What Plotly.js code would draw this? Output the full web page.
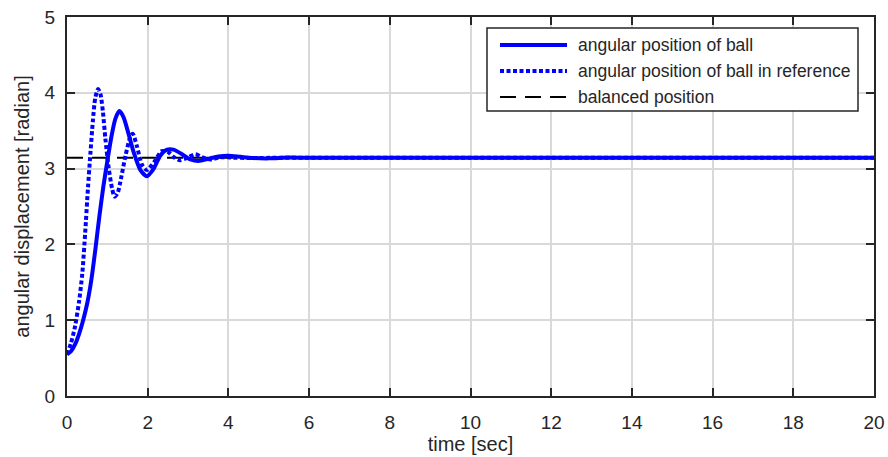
<!DOCTYPE html>
<html>
<head>
<meta charset="utf-8">
<script src="https://cdn.plot.ly/plotly-3.0.1.min.js"></script>
<style>
  html, body { margin: 0; padding: 0; background: #fff; }
  #chart { width: 888px; height: 457px; }
</style>
</head>
<body>
<div id="chart"></div>
<script>
// Ball angle response: simulated controller vs. reference model, settling at pi.
const tBall = [0, 0.1, 0.2, 0.3, 0.4, 0.5, 0.6, 0.7, 0.8, 0.9, 1.0, 1.1, 1.2, 1.3,
  1.4, 1.53, 1.65, 1.82, 1.98, 2.15, 2.31, 2.48, 2.64, 2.85, 3.06, 3.26, 3.51, 3.75, 4.0, 4.3, 4.6,
  5.0, 5.5, 6.0, 7, 8, 10, 12, 14, 16, 18, 20];
const angleBall = [0.55, 0.59, 0.68, 0.82, 1.0, 1.22, 1.52, 1.92, 2.36, 2.76, 3.1, 3.42, 3.66, 3.76,
  3.68, 3.45, 3.22, 2.98, 2.90, 3.0, 3.17, 3.25, 3.25, 3.19, 3.12, 3.10, 3.13, 3.16, 3.17, 3.155, 3.14,
  3.135, 3.145, 3.142, 3.1416, 3.1416, 3.1416, 3.1416, 3.1416, 3.1416, 3.1416, 3.1416];

const tRef = [0, 0.1, 0.2, 0.3, 0.38, 0.45, 0.52, 0.58, 0.64, 0.7, 0.77, 0.83, 0.89, 0.95, 1.03, 1.12,
  1.18, 1.25, 1.32, 1.45, 1.57, 1.63, 1.73, 1.86, 1.98, 2.15, 2.35, 2.5, 2.65, 2.8, 2.97, 3.18, 3.35,
  3.55, 3.8, 4.1, 4.5, 5, 6, 8, 10, 12, 14, 16, 18, 20];
const angleRef = [0.55, 0.7, 0.92, 1.25, 1.62, 2.15, 2.75, 3.2, 3.62, 3.93, 4.05, 3.98, 3.75, 3.4, 3.02, 2.73,
  2.63, 2.67, 2.82, 3.17, 3.42, 3.46, 3.3, 3.05, 2.98, 3.08, 3.23, 3.22, 3.15, 3.11, 3.14, 3.19, 3.15,
  3.12, 3.15, 3.145, 3.14, 3.1416, 3.1416, 3.1416, 3.1416, 3.1416, 3.1416, 3.1416, 3.1416, 3.1416];

const tBalanced = [0, 20];
const angleBalanced = [Math.PI, Math.PI];

const legendLabels = ['angular position of ball', 'angular position of ball in reference', 'balanced position'];

const xTicks = [0, 2, 4, 6, 8, 10, 12, 14, 16, 18, 20];
const yTicks = [0, 1, 2, 3, 4, 5];

const ink = '#262626';
const blue = '#0000ff';
const fontFamily = 'Liberation Sans, Arial, sans-serif';
const lineStyles = [
  { color: blue, width: 4, dash: 'solid' },
  { color: blue, width: 4, dash: '4px,2.5px' },
  { color: '#000000', width: 2, dash: '16px,9px' }
];

const traces = [
  { x: tBalanced, y: angleBalanced, mode: 'lines', line: lineStyles[2], showlegend: false, hoverinfo: 'skip' },
  { x: tRef, y: angleRef, mode: 'lines', line: Object.assign({ shape: 'spline', smoothing: 0.7 }, lineStyles[1]), showlegend: false },
  { x: tBall, y: angleBall, mode: 'lines', line: Object.assign({ shape: 'spline', smoothing: 0.7 }, lineStyles[0]), showlegend: false }
];

// Legend box drawn in paper coordinates (plot area spans 67..874 x 17..396 px)
const px = v => (v - 67) / 807;
const py = v => (396 - v) / 379;
const shapes = [{
  type: 'rect', xref: 'paper', yref: 'paper', layer: 'above',
  x0: px(487), x1: px(858), y0: py(111), y1: py(28),
  fillcolor: '#ffffff', line: { color: ink, width: 1.5 }
}];
const annotations = [];
const rowsY = [45, 71, 97];
legendLabels.forEach((label, i) => {
  shapes.push({
    type: 'line', xref: 'paper', yref: 'paper', layer: 'above',
    x0: px(500), x1: px(567), y0: py(rowsY[i]), y1: py(rowsY[i]),
    line: lineStyles[i]
  });
  annotations.push({
    xref: 'paper', yref: 'paper', x: px(576), y: py(rowsY[i]),
    xanchor: 'left', yanchor: 'middle', showarrow: false, text: label,
    font: { family: fontFamily, size: 17.5, color: ink }
  });
});

const axisCommon = {
  showline: true, linecolor: ink, linewidth: 2, mirror: 'ticks',
  ticks: 'inside', ticklen: 8, tickwidth: 2, tickcolor: ink,
  showgrid: true, gridcolor: '#d9d9d9', gridwidth: 2,
  zeroline: false, tickmode: 'array',
  tickfont: { family: fontFamily, size: 19, color: ink }
};

const layout = {
  width: 888, height: 457,
  margin: { l: 67, r: 14, t: 17, b: 61 },
  paper_bgcolor: '#ffffff', plot_bgcolor: '#ffffff',
  showlegend: false,
  xaxis: Object.assign({}, axisCommon, {
    range: [0, 20], tickvals: xTicks, ticktext: xTicks.map(String), ticklabelstandoff: 8,
    title: { text: 'time [sec]', standoff: 4, font: { family: fontFamily, size: 20, color: ink } }
  }),
  yaxis: Object.assign({}, axisCommon, {
    range: [0, 5], tickvals: yTicks, ticktext: yTicks.map(String), ticklabelstandoff: 6,
    title: { text: 'angular displacement [radian]', standoff: 10, font: { family: fontFamily, size: 20, color: ink } }
  }),
  shapes: shapes,
  annotations: annotations
};

Plotly.newPlot('chart', traces, layout, { staticPlot: true, displayModeBar: false });
</script>
</body>
</html>
